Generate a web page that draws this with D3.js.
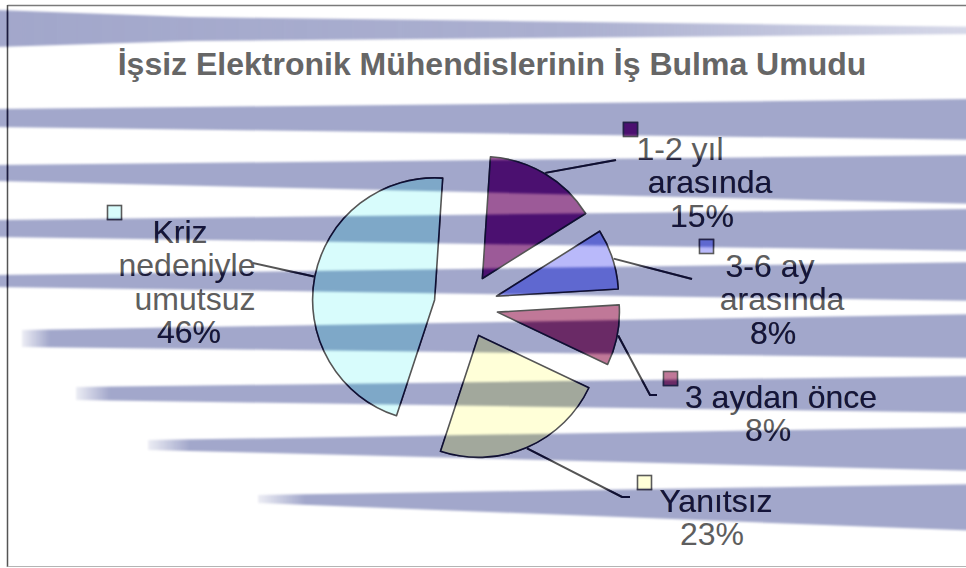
<!DOCTYPE html>
<html><head><meta charset="utf-8">
<script src="https://cdn.jsdelivr.net/npm/d3@7"></script>
<style>html,body{margin:0;padding:0;background:#fff;overflow:hidden}svg{display:block}text{font-family:"Liberation Sans",Arial,sans-serif}</style>
</head><body><svg id="c" width="966" height="568"></svg>
<script>
// ---- data ----
const categories = ["1-2 yıl arasında","3-6 ay arasında","3 aydan önce","Yanıtsız","Kriz nedeniyle umutsuz"];
const values = [15, 8, 8, 23, 46];
const labelLines = [["1-2 yıl","arasında"],["3-6 ay","arasında"],["3 aydan önce"],["Yanıtsız"],["Kriz","nedeniyle","umutsuz"]];
const title = "İşsiz Elektronik Mühendislerinin İş Bulma Umudu";
const colorsLight = ["#9c5a98","#b9b9fa","#c07898","#ffffd8","#d8fcfc"];
const colorsDark  = ["#4b1070","#5f68d0","#6a2a66","#a2a89c","#7ea8c8"];

// ---- layout ----
const W = 966, H = 568;
const cx = 466, cy = 306, R = 122, explode = 32, startDeg = 3.8;
const lineH = 33.3;
const labelLayout = [
  {xs:[680,710,702], y0:160, sq:[623,122], leader:[[616,160]]},
  {xs:[770,782,773], y0:277, sq:[699,239], leader:[[692,279]]},
  {xs:[781,768],     y0:408, sq:[663,371], leader:[[650,395],[657,395]]},
  {xs:[716,712],     y0:512, sq:[637,475], leader:[[622,497],[630,497]]},
  {xs:[180,187,195,189], y0:243, sq:[107,205], leader:[[253,263]]}
];
const streaks = [
  {pts:[[-5,10],[190,17],[980,27],[980,34],[190,41],[-5,47]], stops:[[0,1],[0.6,0.9],[1,0.45]], x1:0, x2:966},
  {pts:[[-5,109],[980,99],[980,140],[-5,127]]},
  {pts:[[-5,165],[980,155],[980,204],[-5,181]]},
  {pts:[[-5,220],[980,209],[980,251],[-5,237]]},
  {pts:[[-5,275],[980,262],[980,301],[-5,287]]},
  {pts:[[22,330],[980,314],[980,358],[22,347]], stops:[[0,0.2],[1,1]], x1:22, x2:50},
  {pts:[[76,387],[980,376],[980,413],[76,400]], stops:[[0,0.2],[1,1]], x1:76, x2:110},
  {pts:[[148,440],[980,427],[980,471],[148,450]], stops:[[0,0.2],[1,1]], x1:148, x2:190},
  {pts:[[258,495],[980,484],[980,531],[258,503]], stops:[[0,0.2],[1,1]], x1:258, x2:305}
];
const streakColor = "#a2a7cb";

const svg = d3.select("#c");
const defs = svg.append("defs");
defs.append("filter").attr("id","blur").attr("filterUnits","userSpaceOnUse")
  .attr("x",-30).attr("y",-30).attr("width",W+60).attr("height",H+60)
  .append("feGaussianBlur").attr("stdDeviation",1.3);

function gradFor(s, i, color, prefix){
  const stops = s.stops || [[0,1],[1,1]];
  const id = prefix + i;
  const g = defs.append("linearGradient").attr("id", id).attr("gradientUnits","userSpaceOnUse")
    .attr("x1", s.x1 ?? 0).attr("x2", s.x2 ?? W).attr("y1",0).attr("y2",0);
  stops.forEach(([o,a]) => g.append("stop").attr("offset",o).attr("stop-color",color).attr("stop-opacity",a));
  return "url(#" + id + ")";
}

// background streaks
const bg = svg.append("g");
streaks.forEach((s,i) => {
  bg.append("polygon").attr("points", s.pts.map(p=>p.join(",")).join(" "))
    .attr("fill", gradFor(s,i,streakColor,"gs")).attr("filter","url(#blur)");
});
// mask from streaks
const mask = defs.append("mask").attr("id","streakMask").attr("maskUnits","userSpaceOnUse")
  .attr("x",0).attr("y",0).attr("width",W).attr("height",H);
streaks.forEach((s,i) => {
  mask.append("polygon").attr("points", s.pts.map(p=>p.join(",")).join(" "))
    .attr("fill", gradFor(s,i,"#ffffff","gm")).attr("filter","url(#blur)");
});

const a0 = startDeg * Math.PI / 180;
const arcs = d3.pie().sort(null).value(d=>d).startAngle(a0).endAngle(a0 + 2*Math.PI)(values);
const arcGen = d3.arc().innerRadius(0).outerRadius(R);
function offset(d, r){ const m = (d.startAngle + d.endAngle)/2; return [Math.sin(m)*r, -Math.cos(m)*r]; }

function drawLayer(g, dark){
  const fills = dark ? colorsDark : colorsLight;
  const ink = dark ? "#14143a" : "#5e5e5e";
  const line = dark ? "#0e0e34" : "#555555";
  // frame
  g.append("line").attr("x1",7.5).attr("x2",W).attr("y1",5.5).attr("y2",5.5).attr("stroke", dark?"#1a1a40":"#7a7a7a").attr("stroke-width",1.5);
  g.append("line").attr("x1",7.5).attr("x2",7.5).attr("y1",5).attr("y2",567).attr("stroke", dark?"#1a1a40":"#555").attr("stroke-width",1.5);
  g.append("line").attr("x1",7.5).attr("x2",W).attr("y1",566.5).attr("y2",566.5).attr("stroke", dark?"#1a1a40":"#b4b4b4").attr("stroke-width",1.2);
  // title
  g.append("text").attr("x",492).attr("y",75).attr("text-anchor","middle")
    .attr("font-size",32).attr("font-weight","bold").attr("fill", dark?"#1a1a3c":"#666666").text(title);
  // slices
  arcs.forEach((d,i) => {
    const [ox,oy] = offset(d, explode);
    g.append("path").attr("d", arcGen(d)).attr("transform",`translate(${cx+ox},${cy+oy})`)
      .attr("fill", fills[i]).attr("stroke", line).attr("stroke-width",1.6).attr("stroke-linejoin","round");
  });
  // leaders, keys, labels
  arcs.forEach((d,i) => {
    const L = labelLayout[i];
    const [ox,oy] = offset(d, explode);
    const [px,py] = offset(d, R + 1);
    const pts = [[cx+ox+px, cy+oy+py], ...L.leader];
    g.append("polyline").attr("points", pts.map(p=>p.join(",")).join(" "))
      .attr("fill","none").attr("stroke", line).attr("stroke-width",2);
    g.append("rect").attr("x",L.sq[0]+0.5).attr("y",L.sq[1]+0.5).attr("width",14).attr("height",14)
      .attr("fill", fills[i]).attr("stroke", dark?"#22224a":"#5a5a5a").attr("stroke-width",1.6);
    const lines = labelLines[i].concat([values[i] + "%"]);
    lines.forEach((t,k) => {
      g.append("text").attr("x", L.xs[k]).attr("y", L.y0 + k*lineH).attr("text-anchor","middle")
        .attr("font-size",32).attr("fill", ink).text(t);
    });
  });
}
drawLayer(svg.append("g"), false);
drawLayer(svg.append("g").attr("mask","url(#streakMask)"), true);
</script></body></html>
